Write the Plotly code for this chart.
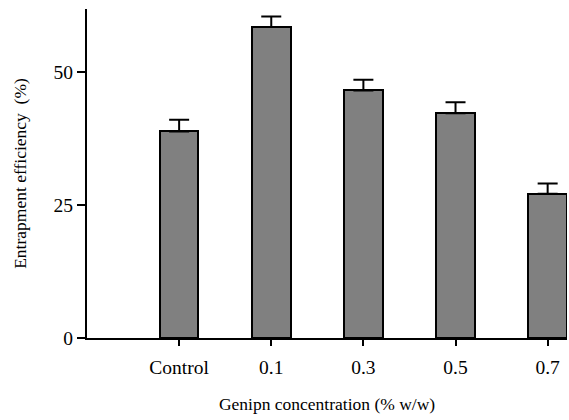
import plotly.graph_objects as go

categories = ["Control", "0.1", "0.3", "0.5", "0.7"]
values = [38.8, 58.4, 46.5, 42.2, 27.1]
errors = [2.2, 2.0, 2.0, 2.1, 1.9]
y_ticks = [0, 25, 50]

fig = go.Figure()
fig.add_trace(go.Bar(
    x=list(range(len(categories))),
    y=values,
    width=0.42,
    marker=dict(color="#808080", line=dict(color="#000000", width=2)),
    error_y=dict(type="data", array=errors, arrayminus=[0]*len(errors), symmetric=False,
                 color="#000000", thickness=2, width=10),
))

fam = "Liberation Serif, Times New Roman, serif"
tick_font = dict(family=fam, size=19.5, color="#000000")
title_font = dict(family=fam, size=17.5, color="#000000")
fig.update_layout(
    width=569, height=420,
    margin=dict(l=87, r=2, t=9, b=82, autoexpand=False),
    plot_bgcolor="white", paper_bgcolor="white",
    showlegend=False,
    font=tick_font,
    bargap=0,
)
fig.update_xaxes(
    range=[-1, 4.21],
    tickmode="array", tickvals=list(range(len(categories))), ticktext=categories,
    showline=True, linecolor="#000000", linewidth=2,
    ticks="outside", ticklen=6, tickwidth=2, tickcolor="#000000",
    ticklabelstandoff=5,
    showgrid=False, zeroline=False,
    title=dict(text="Genipn concentration (% w/w)", font=title_font, standoff=20),
    tickfont=tick_font,
)
fig.update_yaxes(
    range=[0, 61.8],
    tickmode="array", tickvals=y_ticks,
    showline=True, linecolor="#000000", linewidth=2,
    ticks="outside", ticklen=8, tickwidth=2, tickcolor="#000000",
    showgrid=False, zeroline=False,
    title=dict(text="Entrapment efficiency  (%)", font=title_font, standoff=22),
    tickfont=tick_font,
)
fig.write_html("out.html", config={"displayModeBar": False},
               post_script="document.body.style.margin='0';document.body.style.overflow='hidden';")
